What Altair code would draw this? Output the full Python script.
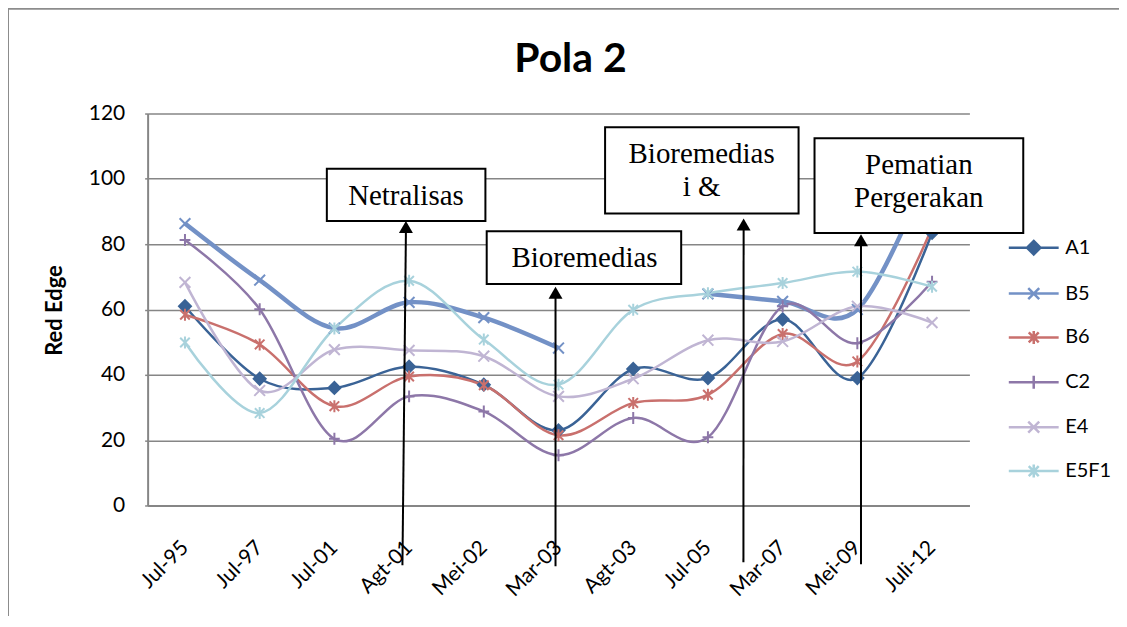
import altair as alt
import pandas as pd

categories = ["Jul-95", "Jul-97", "Jul-01", "Agt-01", "Mei-02", "Mar-03",
              "Agt-03", "Jul-05", "Mar-07", "Mei-09", "Juli-12"]
series_names = ["A1", "B5", "B6", "C2", "E4", "E5F1"]
a1 = [61.0, 38.8, 36.0, 42.5, 37.0, 23.0, 41.8, 39.0, 57.0, 39.0, 83.5]
b5 = [86.3, 69.0, 54.3, 62.2, 57.5, 48.2, None, 64.8, 62.5, 60.0, 105.0]
b6 = [58.4, 49.3, 30.4, 39.5, 36.8, 21.5, 31.4, 33.9, 52.5, 44.1, 85.0]
c2 = [81.3, 60.1, 20.4, 33.4, 28.8, 15.4, 26.8, 20.9, 61.0, 49.7, 68.5]
e4 = [68.3, 35.2, 47.7, 47.5, 45.7, 33.4, 38.8, 50.6, 50.2, 61.0, 56.0]
e5f1 = [49.9, 28.3, 54.2, 68.8, 50.8, 37.0, 59.9, 65.0, 68.1, 71.6, 67.0]
y_ticks = [0, 20, 40, 60, 80, 100, 120]

series_colors = ["#3A6396", "#7391C6", "#C9706D", "#8D77A8", "#C0B5D3", "#A8D2DC"]
series_widths = [2.5, 4.5, 2.5, 2.5, 2.5, 2.5]
marker_paths = [
    "M0,-1L1,0L0,1L-1,0Z",
    "M-0.9,-0.9L0.9,0.9M-0.9,0.9L0.9,-0.9",
    "M-0.8,-0.8L0.8,0.8M-0.8,0.8L0.8,-0.8M0,-1V1",
    "M-0.9,0H0.9M0,-1V1",
    "M-0.9,-0.9L0.9,0.9M-0.9,0.9L0.9,-0.9",
    "M-0.8,-0.8L0.8,0.8M-0.8,0.8L0.8,-0.8M0,-1V1",
]
legend_paths = [
    "M-1,0H1M0,-0.27L0.27,0L0,0.27L-0.27,0Z",
    "M-1,0H1M-0.22,-0.22L0.22,0.22M-0.22,0.22L0.22,-0.22",
    "M-1,0H1M-0.2,-0.2L0.2,0.2M-0.2,0.2L0.2,-0.2M0,-0.26V0.26",
    "M-1,0H1M0,-0.26V0.26",
    "M-1,0H1M-0.22,-0.22L0.22,0.22M-0.22,0.22L0.22,-0.22",
    "M-1,0H1M-0.2,-0.2L0.2,0.2M-0.2,0.2L0.2,-0.2M0,-0.26V0.26",
]

rows = []
for name, vals in zip(series_names, [a1, b5, b6, c2, e4, e5f1]):
    for c, v in zip(categories, vals):
        rows.append({"cat": c, "series": name, "value": v})
df = pd.DataFrame(rows)

GRAY = "#868686"
SANS = "Lato"
SERIF = "Liberation Serif"

x_enc = alt.X("cat:N", sort=categories, title=None,
              scale=alt.Scale(type="point", padding=0.5),
              axis=alt.Axis(labelAngle=-45, labelFont=SANS, labelFontSize=21,
                            labelColor="black", ticks=False, grid=False,
                            domainColor=GRAY, domainWidth=2, labelPadding=31,
                            labelOffset=-8))
y_enc = alt.Y("value:Q", title="Red Edge",
              scale=alt.Scale(domain=[0, 120], nice=False, zero=True),
              axis=alt.Axis(values=y_ticks, labelFont=SANS, labelFontSize=21,
                            labelColor="black", tickSize=3, tickColor=GRAY,
                            tickWidth=1.5, domainColor=GRAY, domainWidth=2,
                            gridColor=GRAY, gridWidth=1.5, labelPadding=20,
                            titleFont=SANS, titleFontSize=22, titleFontWeight="bold",
                            titleColor="black", titleX=-81, titleY=197))


def color_scale():
    return alt.Scale(domain=series_names, range=series_colors)


base = alt.Chart(df).encode(x=x_enc, y=y_enc)

lines = base.mark_line(interpolate="cardinal").encode(
    stroke=alt.Stroke("series:N", scale=color_scale(), legend=None),
    strokeWidth=alt.StrokeWidth("series:N",
                                scale=alt.Scale(type="ordinal", domain=series_names,
                                                range=series_widths),
                                legend=None),
)

points = base.mark_point(filled=True, size=144, strokeWidth=2, opacity=1).encode(
    fill=alt.Fill("series:N", scale=color_scale(), legend=None),
    stroke=alt.Stroke("series:N", scale=color_scale(), legend=None),
    shape=alt.Shape("series:N", scale=alt.Scale(domain=series_names, range=marker_paths),
                    legend=None),
).transform_filter("isValid(datum.value)")

leg = alt.Legend(orient="none", legendX=862, legendY=108, symbolSize=2500,
                 symbolStrokeWidth=2.5, labelFont=SANS, labelFontSize=20,
                 labelColor="black", rowPadding=7, padding=0, labelOffset=5,
                 title=None)

legend_layer = alt.Chart(df).mark_point(filled=True, opacity=1).encode(
    fill=alt.Fill("series:N", scale=color_scale(), legend=leg),
    stroke=alt.Stroke("series:N", scale=color_scale(), legend=leg),
    shape=alt.Shape("series:N", scale=alt.Scale(domain=series_names, range=legend_paths),
                    legend=leg),
).transform_filter("false")

one = pd.DataFrame({"k": [0]})


def box(x0, y0, x1, y1):
    return alt.Chart(one).mark_rect(fill="white", stroke="black", strokeWidth=2).encode(
        x=alt.value(x0), x2=alt.value(x1), y=alt.value(y0), y2=alt.value(y1))


def label(x, y, text, size=29):
    return alt.Chart(one).mark_text(font=SERIF, fontSize=size, color="black",
                                    align="center", baseline="alphabetic",
                                    lineHeight=32.7).encode(
        x=alt.value(x), y=alt.value(y), text=alt.value(text))


def arrow(xt, yt, xb, yb):
    line = alt.Chart(one).mark_rule(color="black", strokeWidth=2).encode(
        x=alt.value(xt), x2=alt.value(xb), y=alt.value(yt + 10), y2=alt.value(yb))
    head = alt.Chart(one).mark_point(shape="M0,-0.857L1,0.857L-1,0.857Z", filled=True,
                                     size=196, color="black", opacity=1).encode(
        x=alt.value(xt), y=alt.value(yt + 6))
    return line + head


annotations = [
    box(179.7, 55.3, 338.7, 107.7), label(259, 92, "Netralisas"),
    box(340, 118, 535, 171), label(438, 154.3, "Bioremedias"),
    box(458.7, 13.7, 652.7, 100.3), label(555.5, 50, ["Bioremedias", "i &"]),
    box(668.7, 24.7, 878, 119.7), label(773.3, 61, ["Pematian", "Pergerakan"]),
    arrow(259, 107.7, 255.5, 453),
    arrow(409, 173.7, 409, 454),
    arrow(597.6, 105.3, 597.4, 450),
    arrow(715.3, 121, 715.3, 452),
]

title = alt.Chart(one).mark_text(font=SANS, fontSize=41, fontWeight="bold", color="black",
                                 align="center", baseline="alphabetic").encode(
    x=alt.value(424), y=alt.value(-42), text=alt.value("Pola 2"))

frame = [
    alt.Chart(one).mark_rule(color="#8C8C8C", strokeWidth=2).encode(
        x=alt.value(-140), x2=alt.value(980), y=alt.value(-105)),
    alt.Chart(one).mark_rule(color="#8C8C8C", strokeWidth=2).encode(
        x=alt.value(-140), y=alt.value(-105), y2=alt.value(520)),
]

chart = alt.layer(lines, points, legend_layer, *annotations, title, *frame).resolve_scale(
    shape="independent", fill="independent", stroke="independent"
).properties(
    width=824, height=393,
    autosize=alt.AutoSizeParams(type="none"),
    padding={"left": 140, "top": 105, "right": 150, "bottom": 110},
    background="white",
).configure_view(strokeWidth=0)

chart.save("out.html", embed_options={"renderer": "svg", "actions": False})
